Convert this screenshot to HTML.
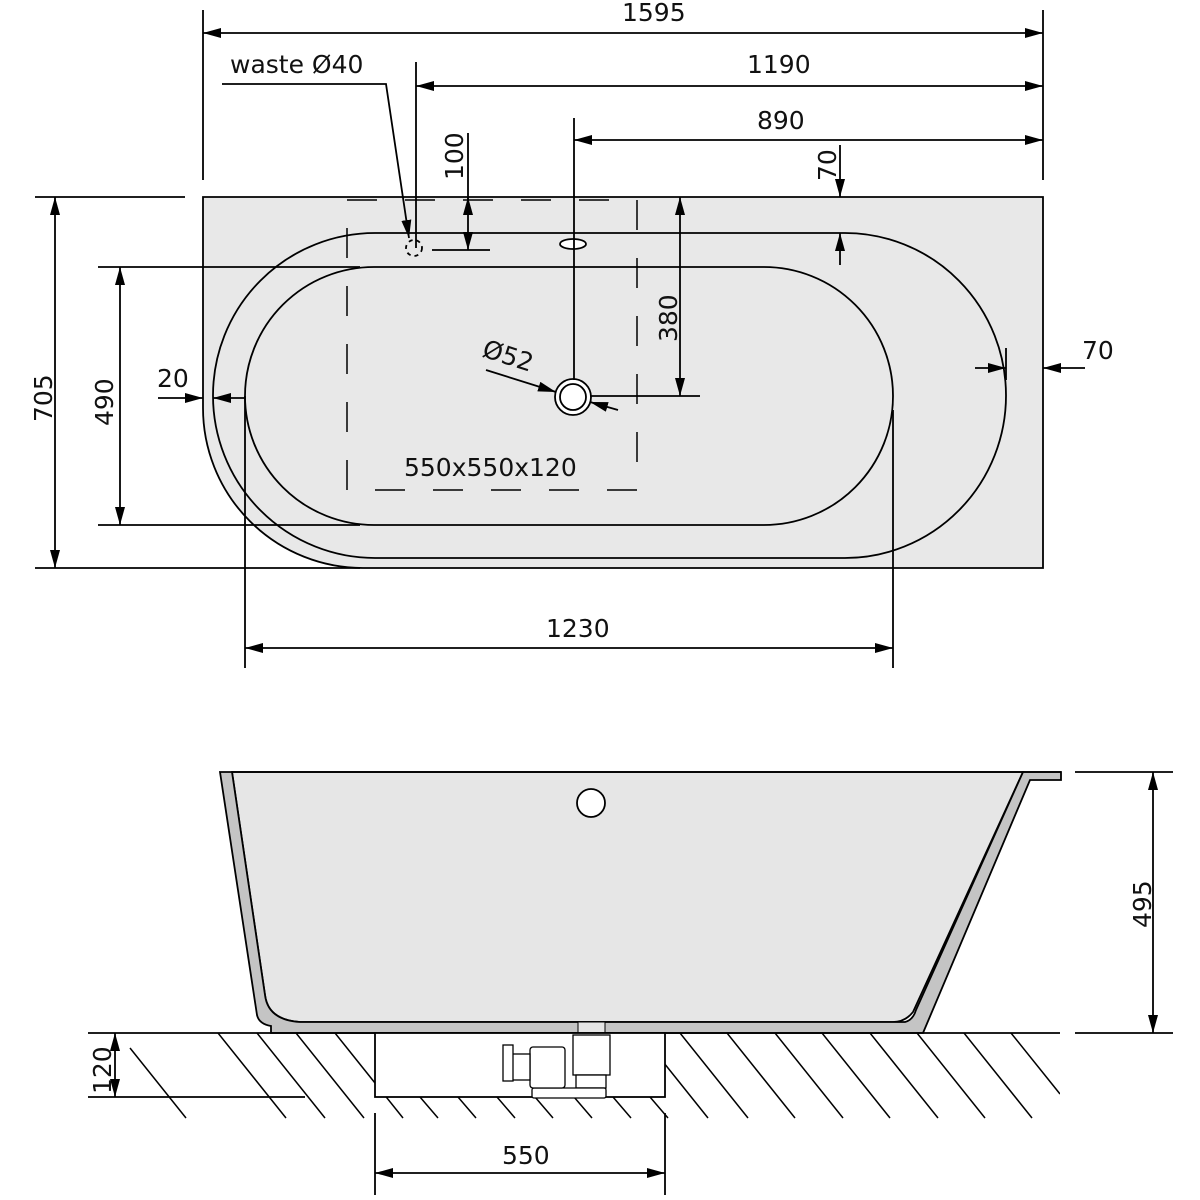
<!DOCTYPE html>
<html><head><meta charset="utf-8"><style>
html,body{margin:0;padding:0;background:#fff;}
svg{display:block;}
text{font-family:"DejaVu Sans","Liberation Sans",sans-serif;font-size:25px;fill:#111;}
</style></head><body>
<svg width="1200" height="1200" viewBox="0 0 1200 1200" xmlns="http://www.w3.org/2000/svg">
<defs>
<marker id="a" markerWidth="20" markerHeight="12" refX="18" refY="5" orient="auto-start-reverse" markerUnits="userSpaceOnUse">
<path d="M0,0 L18,5 L0,10 z" fill="#000"/>
</marker>
<clipPath id="hc">
<path d="M88,1033 H1060 V1120 H88 Z M375,1033 V1097 H665 V1033 Z" clip-rule="evenodd" fill-rule="evenodd"/>
</clipPath>
</defs>
<g stroke="#000" stroke-width="1.8" fill="none">
<path d="M203,197 H1043 V568 H363 A160,160 0 0 1 203,408 Z" fill="#e8e8e8"/>
<path d="M375,233 H845 A161,162.5 0 0 1 845,558 H375 A162,162.5 0 0 1 375,233 Z"/>
<path d="M374,267 H764 A129,129 0 0 1 764,525 H374 A129,129 0 0 1 374,267 Z"/>
<rect x="347" y="200" width="290" height="290" stroke-dasharray="30,28" stroke-width="1.5"/>
<circle cx="414" cy="248" r="8" stroke-dasharray="4,4"/>
<ellipse cx="573" cy="244" rx="13" ry="5" fill="#fff"/>
<circle cx="573" cy="397" r="18" fill="#fff"/>
<circle cx="573" cy="397" r="13" fill="#fff"/>

<line x1="203" y1="10" x2="203" y2="180"/>
<line x1="1043" y1="10" x2="1043" y2="180"/>
<line x1="203" y1="33" x2="1043" y2="33" marker-start="url(#a)" marker-end="url(#a)"/>
<line x1="416" y1="62" x2="416" y2="248"/>
<line x1="416" y1="86" x2="1043" y2="86" marker-start="url(#a)" marker-end="url(#a)"/>
<line x1="574" y1="118" x2="574" y2="380"/>
<line x1="574" y1="140" x2="1043" y2="140" marker-start="url(#a)" marker-end="url(#a)"/>
<polyline points="222,84 386,84 409,238" marker-end="url(#a)"/>
<line x1="468" y1="133" x2="468" y2="200"/>
<line x1="468" y1="224" x2="468" y2="197" marker-end="url(#a)"/>
<line x1="468" y1="224" x2="468" y2="250" marker-end="url(#a)"/>
<line x1="432" y1="250" x2="490" y2="250"/>
<line x1="840" y1="145" x2="840" y2="197" marker-end="url(#a)"/>
<line x1="840" y1="265" x2="840" y2="233" marker-end="url(#a)"/>
<line x1="680" y1="197" x2="680" y2="396" marker-start="url(#a)" marker-end="url(#a)"/>
<line x1="590" y1="396" x2="700" y2="396"/>
<line x1="1006" y1="348" x2="1006" y2="380"/>
<line x1="975" y1="368" x2="1006" y2="368" marker-end="url(#a)"/>
<line x1="1085" y1="368" x2="1043" y2="368" marker-end="url(#a)"/>
<line x1="158" y1="398" x2="203" y2="398" marker-end="url(#a)"/>
<line x1="245" y1="398" x2="213" y2="398" marker-end="url(#a)"/>
<line x1="35" y1="197" x2="185" y2="197"/>
<line x1="35" y1="568" x2="360" y2="568"/>
<line x1="55" y1="197" x2="55" y2="568" marker-start="url(#a)" marker-end="url(#a)"/>
<line x1="98" y1="267" x2="360" y2="267"/>
<line x1="98" y1="525" x2="360" y2="525"/>
<line x1="120" y1="267" x2="120" y2="525" marker-start="url(#a)" marker-end="url(#a)"/>
<line x1="245" y1="396" x2="245" y2="668"/>
<line x1="893" y1="410" x2="893" y2="668"/>
<line x1="245" y1="648" x2="893" y2="648" marker-start="url(#a)" marker-end="url(#a)"/>
<line x1="486" y1="370" x2="556" y2="392" marker-end="url(#a)"/>
<line x1="618" y1="410" x2="590" y2="402" marker-end="url(#a)"/>

<path d="M232,772 H1023 L913,1012 Q905,1022 893,1022 H300 Q268,1020 265,995 Z" fill="#e6e6e6"/>
<path d="M220,772 H232 L265,995 Q268,1020 300,1022 H905 Q913,1020 916,1010 L1023,772 H1061 V780 H1030 L923,1033 H271 V1026 Q259,1024 257,1015 Z" fill="#c4c4c4"/>
<line x1="232" y1="772" x2="1061" y2="772"/>
<circle cx="591" cy="803" r="14" fill="#fff"/>
<rect x="578" y="1022" width="27" height="11" fill="#e6e6e6" stroke-width="1"/>
<line x1="88" y1="1033" x2="1060" y2="1033"/>
<line x1="88" y1="1097" x2="305" y2="1097"/>
<rect x="375" y="1033" width="290" height="64" fill="#fff"/>
<g clip-path="url(#hc)" stroke-width="1.5">
<line x1="130" y1="1048" x2="186" y2="1118"/>
<line x1="218" y1="1033" x2="286" y2="1118"/>
<line x1="257" y1="1033" x2="325" y2="1118"/>
<line x1="296" y1="1033" x2="364" y2="1118"/>
<line x1="335" y1="1033" x2="403" y2="1118"/>
<line x1="420" y1="1097" x2="438" y2="1118"/>
<line x1="458" y1="1097" x2="476" y2="1118"/>
<line x1="497" y1="1097" x2="515" y2="1118"/>
<line x1="535" y1="1097" x2="553" y2="1118"/>
<line x1="574" y1="1097" x2="592" y2="1118"/>
<line x1="613" y1="1097" x2="631" y2="1118"/>
<line x1="650" y1="1097" x2="668" y2="1118"/>
<line x1="640" y1="1033" x2="708" y2="1118"/>
<line x1="680" y1="1033" x2="748" y2="1118"/>
<line x1="727" y1="1033" x2="795" y2="1118"/>
<line x1="775" y1="1033" x2="843" y2="1118"/>
<line x1="822" y1="1033" x2="890" y2="1118"/>
<line x1="870" y1="1033" x2="938" y2="1118"/>
<line x1="917" y1="1033" x2="985" y2="1118"/>
<line x1="964" y1="1033" x2="1032" y2="1118"/>
<line x1="1011" y1="1033" x2="1060" y2="1094"/>
</g>
<g stroke-width="1.3" fill="#fff">
<rect x="573" y="1035" width="37" height="40"/>
<rect x="576" y="1075" width="30" height="13"/>
<rect x="532" y="1088" width="74" height="10" rx="2"/>
<rect x="530" y="1047" width="35" height="41" rx="3"/>
<rect x="512" y="1054" width="18" height="26"/>
<rect x="503" y="1045" width="10" height="36"/>
</g>
<line x1="1075" y1="772" x2="1173" y2="772"/>
<line x1="1075" y1="1033" x2="1173" y2="1033"/>
<line x1="1153" y1="772" x2="1153" y2="1033" marker-start="url(#a)" marker-end="url(#a)"/>
<line x1="115" y1="1033" x2="115" y2="1097" marker-start="url(#a)" marker-end="url(#a)"/>
<line x1="375" y1="1113" x2="375" y2="1195"/>
<line x1="665" y1="1113" x2="665" y2="1195"/>
<line x1="375" y1="1173" x2="665" y2="1173" marker-start="url(#a)" marker-end="url(#a)"/>
</g>
<g>
<text x="622" y="21">1595</text>
<text x="230" y="73">waste Ø40</text>
<text x="747" y="73">1190</text>
<text x="757" y="129">890</text>
<text transform="translate(463,180) rotate(-90)">100</text>
<text transform="translate(836,181) rotate(-90)">70</text>
<text transform="translate(677,342) rotate(-90)">380</text>
<text x="1082" y="359">70</text>
<text x="157" y="387">20</text>
<text transform="translate(52,422) rotate(-90)">705</text>
<text transform="translate(113,426) rotate(-90)">490</text>
<text transform="translate(481,356) rotate(18)">Ø52</text>
<text x="404" y="476">550x550x120</text>
<text x="546" y="637">1230</text>
<text transform="translate(1151,928) rotate(-90)">495</text>
<text transform="translate(111,1094) rotate(-90)">120</text>
<text x="502" y="1164">550</text>
</g>
</svg>
</body></html>
